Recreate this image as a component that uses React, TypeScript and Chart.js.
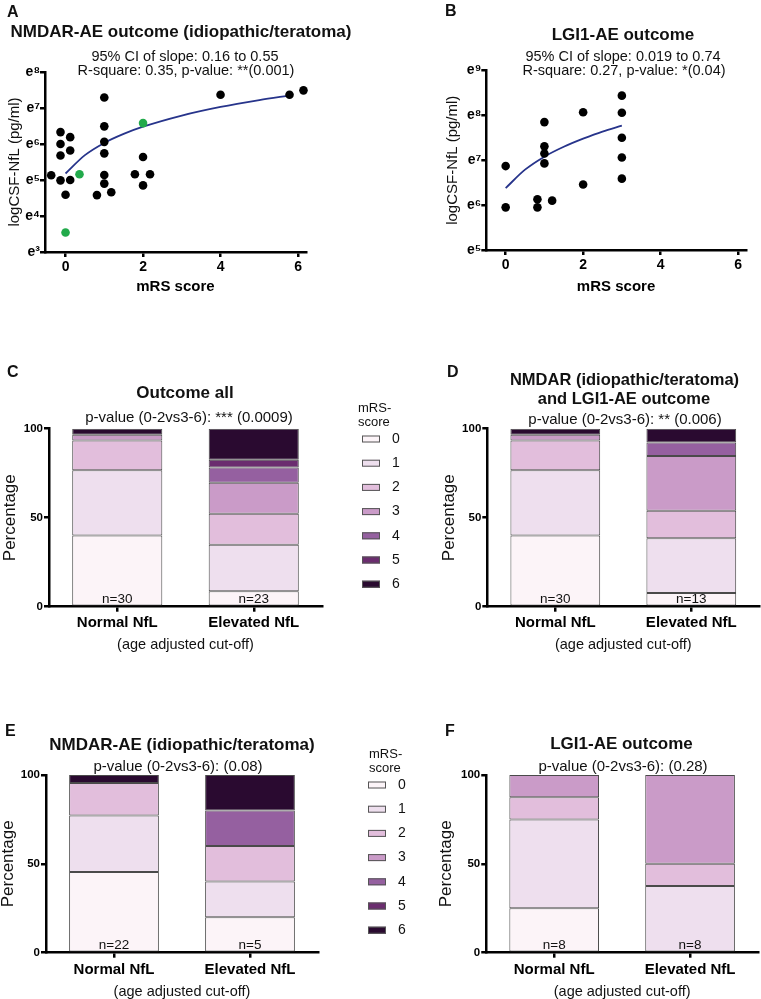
import React, { useEffect, useRef } from 'react';
import { Chart, registerables } from 'chart.js';

Chart.register(...registerables);

const FONT = '"Liberation Sans", Arial, Helvetica, sans-serif';
Chart.defaults.font.family = FONT;
Chart.defaults.color = '#000';

// ---------------- Panel A: NMDAR-AE scatter (ln NfL vs mRS) ----------------
const A_BLACK_X = [-0.37, -0.13, -0.13, -0.13, -0.13, 0, 0.12, 0.12, 0.12, 0.81, 1, 1, 1, 1, 1, 1, 1.18, 1.79, 2, 2, 2.18, 4, 5.78, 6.14];
const A_BLACK_Y = [5.13, 6.33, 6.0, 5.68, 4.99, 4.59, 6.19, 5.82, 5.0, 4.58, 7.29, 6.49, 6.06, 5.74, 5.14, 4.9, 4.66, 5.16, 5.64, 4.85, 5.16, 7.37, 7.37, 7.49];
const A_GREEN_X = [0, 0.36, 2];
const A_GREEN_Y = [3.54, 5.16, 6.58];
const A_FIT_X = [0, 0.5, 1, 1.5, 2, 3, 4, 5, 5.8];
const A_FIT_Y = [5.18, 5.69, 6.03, 6.28, 6.48, 6.79, 7.03, 7.22, 7.35];
const A_Y_TICKS = [3, 4, 5, 6, 7, 8];

// ---------------- Panel B: LGI1-AE scatter ----------------
const B_X = [0, 0, 0.82, 0.82, 1, 1, 1, 1, 1.2, 2, 2, 3, 3, 3, 3, 3];
const B_Y = [6.87, 5.95, 6.13, 5.95, 7.85, 7.31, 7.15, 6.93, 6.1, 8.07, 6.46, 8.44, 8.06, 7.5, 7.06, 6.59];
const B_FIT_X = [0, 0.5, 1, 1.5, 2, 2.5, 3];
const B_FIT_Y = [6.38, 6.79, 7.08, 7.3, 7.48, 7.64, 7.77];
const B_Y_TICKS = [5, 6, 7, 8, 9];

const SCATTER_X_TICKS = [0, 2, 4, 6];
const SUPERSCRIPTS: Record<number, string> = { 3: '³', 4: '⁴', 5: '⁵', 6: '⁶', 7: '⁷', 8: '⁸', 9: '⁹' };

// ---------------- Panels C–F: stacked mRS bars (patient counts) ----------------
const MRS_LABELS = ['0', '1', '2', '3', '4', '5', '6'];
const MRS_COLORS = ['#FCF4F8', '#EEDFEE', '#E2BEDC', '#CA9BC8', '#9560A0', '#6B2D6F', '#2A0A30'];
const GROUPS = ['Normal NfL', 'Elevated NfL'];
const PCT_TICKS = [0, 50, 100];
const LEGEND_TITLE = ['mRS-', 'score'];

const C_NORMAL = [12, 11, 5, 1, 0, 0, 1];
const C_ELEVATED = [2, 6, 4, 4, 2, 1, 4];
const D_NORMAL = [12, 11, 5, 1, 0, 0, 1];
const D_ELEVATED = [1, 4, 2, 4, 1, 0, 1];
const E_NORMAL = [10, 7, 4, 0, 0, 0, 1];
const E_ELEVATED = [1, 1, 1, 0, 1, 0, 1];
const F_NORMAL = [2, 4, 1, 1, 0, 0, 0];
const F_ELEVATED = [0, 3, 1, 4, 0, 0, 0];

type Box = { left: number; top: number; width: number; height: number };
type Area = { l: number; t: number; r: number; b: number };
type Txt = { text: string; x: number; y: number; size: number; bold?: boolean; align?: CanvasTextAlign };
type LegendSpec = { titleX: number; titleY: number[]; boxX: number; boxY0: number; step: number; labelX: number };

const sum = (a: number[]) => a.reduce((s, v) => s + v, 0);
const pts = (xs: number[], ys: number[]) => xs.map((x, i) => ({ x, y: ys[i] }));

function overlayPlugin(box: Box, texts: Txt[], legend?: LegendSpec, nLabels?: string[]) {
  return {
    id: 'overlay',
    afterDraw(chart: any) {
      const ctx = chart.ctx as CanvasRenderingContext2D;
      ctx.save();
      ctx.fillStyle = '#111';
      ctx.textBaseline = 'middle';
      for (const t of texts) {
        ctx.font = `${t.bold ? 'bold ' : ''}${t.size}px ${FONT}`;
        ctx.textAlign = t.align ?? 'center';
        ctx.fillText(t.text, t.x - box.left, t.y - box.top);
      }
      if (nLabels) {
        const xs = chart.scales.x;
        const ys = chart.scales.y;
        ctx.font = `13.5px ${FONT}`;
        ctx.textAlign = 'center';
        nLabels.forEach((s, i) => ctx.fillText(s, xs.getPixelForValue(i), ys.getPixelForValue(0) - 7.5));
      }
      if (legend) {
        ctx.font = `13px ${FONT}`;
        ctx.textAlign = 'left';
        LEGEND_TITLE.forEach((s, i) => ctx.fillText(s, legend.titleX - box.left, legend.titleY[i] - box.top));
        chart.data.datasets.forEach((ds: any, k: number) => {
          const y = legend.boxY0 + k * legend.step - box.top;
          const x = legend.boxX - box.left;
          ctx.fillStyle = ds.backgroundColor;
          ctx.fillRect(x, y - 3.5, 18, 7);
          ctx.strokeStyle = '#555';
          ctx.lineWidth = 1;
          ctx.strokeRect(x + 0.5, y - 3, 17, 6);
          ctx.fillStyle = '#111';
          ctx.font = `14px ${FONT}`;
          ctx.fillText(ds.label, legend.labelX - box.left, y);
        });
      }
      ctx.restore();
    },
  };
}

function axisBase() {
  return {
    grid: {
      display: true,
      drawOnChartArea: false,
      drawTicks: true,
      tickLength: 5,
      tickWidth: 2.5,
      tickColor: '#000',
      color: '#000',
      lineWidth: 2.5,
    },
    border: { display: true, color: '#000', width: 2.5 },
  };
}

function scatterConfig(o: {
  box: Box; area: Area; xMin: number; xMax: number; yMin: number; yMax: number; yTicks: number[];
  black: { x: number; y: number }[]; green: { x: number; y: number }[]; fit: { x: number; y: number }[];
  yTitlePad: number; texts: Txt[];
}) {
  const yW = o.area.l - o.box.left;
  const xH = o.box.top + o.box.height - o.area.b;
  const datasets: any[] = [
    { label: 'patients', data: o.black, pointRadius: 4.3, pointBackgroundColor: '#000', pointBorderWidth: 0, clip: false, showLine: false },
  ];
  if (o.green.length) {
    datasets.push({ label: 'green', data: o.green, pointRadius: 4.3, pointBackgroundColor: '#22AA4B', pointBorderWidth: 0, clip: false, showLine: false });
  }
  datasets.push({
    label: 'fit', data: o.fit, showLine: true, pointRadius: 0, borderColor: '#27348B', borderWidth: 1.8,
    tension: 0.4, cubicInterpolationMode: 'monotone', fill: false, clip: false,
  });
  return {
    type: 'scatter',
    data: { datasets },
    options: {
      responsive: false,
      animation: false,
      devicePixelRatio: 1,
      events: [],
      layout: { padding: { left: 0, bottom: 0, top: o.area.t - o.box.top, right: o.box.left + o.box.width - o.area.r } },
      plugins: { legend: { display: false }, tooltip: { enabled: false }, title: { display: false } },
      scales: {
        x: {
          type: 'linear', min: o.xMin, max: o.xMax, ...axisBase(),
          afterBuildTicks: (s: any) => { s.ticks = SCATTER_X_TICKS.map((v) => ({ value: v })); },
          afterFit: (s: any) => { s.height = xH; },
          ticks: { color: '#000', font: { size: 14, weight: 'bold' }, padding: 1.5, callback: (v: any) => String(v) },
          title: { display: true, text: 'mRS score', color: '#000', font: { size: 15, weight: 'bold', lineHeight: 1.2 }, padding: { top: 0, bottom: 9 } },
        },
        y: {
          type: 'linear', min: o.yMin, max: o.yMax, ...axisBase(),
          afterBuildTicks: (s: any) => { s.ticks = o.yTicks.map((v) => ({ value: v })); },
          afterFit: (s: any) => { s.width = yW; },
          ticks: { color: '#000', font: { size: 14, weight: 'bold' }, padding: 0, callback: (v: any) => 'e' + SUPERSCRIPTS[v as number] },
          title: { display: true, text: 'logCSF-NfL (pg/ml)', color: '#111', font: { size: 15, lineHeight: 1.2 }, padding: { top: o.yTitlePad, bottom: 0 } },
        },
      },
    },
    plugins: [overlayPlugin(o.box, o.texts)],
  };
}

function barConfig(o: {
  box: Box; area: Area; normal: number[]; elevated: number[]; texts: Txt[]; legend?: LegendSpec;
  yTitlePad: number; xTickPad: number; xTitlePad: number;
}) {
  const yW = o.area.l - o.box.left;
  const xH = o.box.top + o.box.height - o.area.b;
  const nN = sum(o.normal);
  const nE = sum(o.elevated);
  const datasets = MRS_LABELS.map((lab, k) => ({
    label: lab,
    data: [(o.normal[k] / nN) * 100, (o.elevated[k] / nE) * 100],
    backgroundColor: MRS_COLORS[k],
    borderColor: '#4a4a4a',
    borderWidth: (c: any) => (c.raw > 0 ? 1 : 0),
    borderSkipped: false,
    barPercentage: 0.66,
    categoryPercentage: 1,
  }));
  const base = axisBase();
  return {
    type: 'bar',
    data: { labels: GROUPS, datasets },
    options: {
      responsive: false,
      animation: false,
      devicePixelRatio: 1,
      events: [],
      layout: { padding: { left: 0, bottom: 0, top: o.area.t - o.box.top, right: o.box.left + o.box.width - o.area.r } },
      plugins: { legend: { display: false }, tooltip: { enabled: false }, title: { display: false } },
      scales: {
        x: {
          type: 'category', stacked: true, offset: true,
          grid: { ...base.grid, offset: false }, border: base.border,
          afterFit: (s: any) => { s.height = xH; },
          ticks: { color: '#000', font: { size: 15, weight: 'bold' }, padding: o.xTickPad },
          title: { display: true, text: '(age adjusted cut-off)', color: '#111', font: { size: 14.5, lineHeight: 1 }, padding: { top: 0, bottom: o.xTitlePad } },
        },
        y: {
          type: 'linear', stacked: true, min: 0, max: 100, ...base,
          afterBuildTicks: (s: any) => { s.ticks = PCT_TICKS.map((v) => ({ value: v })); },
          afterFit: (s: any) => { s.width = yW; },
          ticks: { color: '#000', font: { size: 11.5, weight: 'bold' }, padding: 1 },
          title: { display: true, text: 'Percentage', color: '#111', font: { size: 17, lineHeight: 1 }, padding: { top: o.yTitlePad, bottom: 0 } },
        },
      },
    },
    plugins: [overlayPlugin(o.box, o.texts, o.legend, [`n=${nN}`, `n=${nE}`])],
  };
}

const BOX_A: Box = { left: 0, top: 0, width: 380, height: 305 };
const BOX_B: Box = { left: 380, top: 0, width: 381, height: 305 };
const BOX_C: Box = { left: 0, top: 330, width: 410, height: 330 };
const BOX_D: Box = { left: 410, top: 330, width: 351, height: 330 };
const BOX_E: Box = { left: 0, top: 660, width: 410, height: 339 };
const BOX_F: Box = { left: 410, top: 660, width: 351, height: 339 };

const PANELS = [
  {
    key: 'A', box: BOX_A,
    build: () => scatterConfig({
      box: BOX_A, area: { l: 45, t: 72, r: 305.8, b: 252 }, xMin: -0.53, xMax: 6.2, yMin: 3, yMax: 8, yTicks: A_Y_TICKS,
      black: pts(A_BLACK_X, A_BLACK_Y), green: pts(A_GREEN_X, A_GREEN_Y), fit: pts(A_FIT_X, A_FIT_Y), yTitlePad: 6,
      texts: [
        { text: 'A', x: 7, y: 13, size: 16, bold: true, align: 'left' },
        { text: 'NMDAR-AE outcome (idiopathic/teratoma)', x: 181, y: 32, size: 17, bold: true },
        { text: '95% CI of slope: 0.16 to 0.55', x: 185, y: 57, size: 14.5 },
        { text: 'R-square: 0.35, p-value: **(0.001)', x: 186, y: 71, size: 14.5 },
      ],
    }),
  },
  {
    key: 'B', box: BOX_B,
    build: () => scatterConfig({
      box: BOX_B, area: { l: 486.3, t: 70.5, r: 745.8, b: 250 }, xMin: -0.5, xMax: 6.2, yMin: 5, yMax: 9, yTicks: B_Y_TICKS,
      black: pts(B_X, B_Y), green: [], fit: pts(B_FIT_X, B_FIT_Y), yTitlePad: 64,
      texts: [
        { text: 'B', x: 445, y: 12, size: 16, bold: true, align: 'left' },
        { text: 'LGI1-AE outcome', x: 623, y: 35, size: 17, bold: true },
        { text: '95% CI of slope: 0.019 to 0.74', x: 623, y: 57, size: 14.5 },
        { text: 'R-square: 0.27, p-value: *(0.04)', x: 624, y: 71, size: 14.5 },
      ],
    }),
  },
  {
    key: 'C', box: BOX_C,
    build: () => barConfig({
      box: BOX_C, area: { l: 49, t: 428.7, r: 322, b: 606.7 }, normal: C_NORMAL, elevated: C_ELEVATED,
      yTitlePad: 1.5, xTickPad: 2.3, xTitlePad: 7.7,
      texts: [
        { text: 'C', x: 7, y: 373, size: 16, bold: true, align: 'left' },
        { text: 'Outcome all', x: 185, y: 393, size: 17, bold: true },
        { text: 'p-value (0-2vs3-6): *** (0.0009)', x: 189, y: 418, size: 15 },
      ],
      legend: { titleX: 358, titleY: [408, 422], boxX: 362, boxY0: 439, step: 24.2, labelX: 392 },
    }),
  },
  {
    key: 'D', box: BOX_D,
    build: () => barConfig({
      box: BOX_D, area: { l: 487.3, t: 428.7, r: 759.3, b: 606.7 }, normal: D_NORMAL, elevated: D_ELEVATED,
      yTitlePad: 30.5, xTickPad: 2.3, xTitlePad: 7.7,
      texts: [
        { text: 'D', x: 447, y: 373, size: 16, bold: true, align: 'left' },
        { text: 'NMDAR (idiopathic/teratoma)', x: 624.5, y: 380, size: 16.5, bold: true },
        { text: 'and LGI1-AE outcome', x: 624, y: 399, size: 16.5, bold: true },
        { text: 'p-value (0-2vs3-6): ** (0.006)', x: 625, y: 420, size: 15 },
      ],
    }),
  },
  {
    key: 'E', box: BOX_E,
    build: () => barConfig({
      box: BOX_E, area: { l: 46, t: 775, r: 318, b: 952.7 }, normal: E_NORMAL, elevated: E_ELEVATED,
      yTitlePad: 0, xTickPad: 3.3, xTitlePad: 0,
      texts: [
        { text: 'E', x: 5, y: 732, size: 16, bold: true, align: 'left' },
        { text: 'NMDAR-AE (idiopathic/teratoma)', x: 182, y: 745, size: 17, bold: true },
        { text: 'p-value (0-2vs3-6): (0.08)', x: 178, y: 767, size: 15 },
      ],
      legend: { titleX: 369, titleY: [754, 768], boxX: 368, boxY0: 785, step: 24.2, labelX: 398 },
    }),
  },
  {
    key: 'F', box: BOX_F,
    build: () => barConfig({
      box: BOX_F, area: { l: 486.25, t: 775, r: 758, b: 952.7 }, normal: F_NORMAL, elevated: F_ELEVATED,
      yTitlePad: 28.2, xTickPad: 3.3, xTitlePad: 0,
      texts: [
        { text: 'F', x: 445, y: 732, size: 16, bold: true, align: 'left' },
        { text: 'LGI1-AE outcome', x: 621.5, y: 744, size: 17, bold: true },
        { text: 'p-value (0-2vs3-6): (0.28)', x: 623, y: 767, size: 15 },
      ],
    }),
  },
];

function ChartCanvas({ box, build }: { box: Box; build: () => any }) {
  const ref = useRef<HTMLCanvasElement>(null);
  useEffect(() => {
    if (!ref.current) return;
    const chart = new Chart(ref.current, build());
    return () => chart.destroy();
  }, []);
  return (
    <canvas
      ref={ref}
      width={box.width}
      height={box.height}
      style={{ position: 'absolute', left: box.left, top: box.top, width: box.width, height: box.height }}
    />
  );
}

export default function App() {
  return (
    <div style={{ position: 'absolute', left: 0, top: 0, width: 761, height: 999, overflow: 'hidden', background: '#fff' }}>
      {PANELS.map((p) => (
        <ChartCanvas key={p.key} box={p.box} build={p.build} />
      ))}
    </div>
  );
}
